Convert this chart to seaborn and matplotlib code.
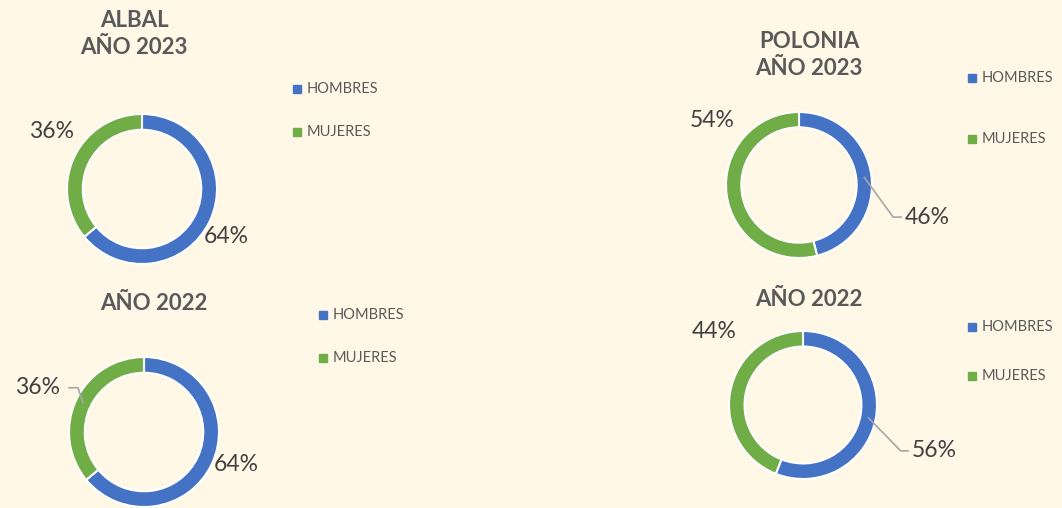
import numpy as np
import seaborn as sns
import matplotlib.pyplot as plt
from matplotlib.lines import Line2D

# datos
generos = ['HOMBRES', 'MUJERES']
albal_2023 = [64, 36]
albal_2022 = [64, 36]
polonia_2023 = [46, 54]
polonia_2022 = [56, 44]

sns.set_theme(style='white')
plt.rcParams['font.family'] = ['Lato', 'DejaVu Sans']

fondo = '#FFF8E6'
colores = ['#4472C4', '#70AD47']
gris_titulo = '#595959'
gris_etiqueta = '#404040'

W, H = 1062, 508
fig = plt.figure(figsize=(W / 100, H / 100), dpi=100, facecolor=fondo)


def fx(x):
    return x / W


def fy(y):
    return 1 - y / H


# layout in pixels / radius units
paneles = [
    dict(titulo='ALBAL\nAÑO 2023', valores=albal_2023, tpos=(134, 34),
         centro=(142, 189), r=75, leyenda=(297, 89), sep=43,
         etiquetas=[dict(pos=(1.12, -0.63), ha='center'),
                    dict(pos=(-1.20, 0.76), ha='center')]),
    dict(titulo='AÑO 2022', valores=albal_2022, tpos=(154, 303),
         centro=(144, 432), r=75, leyenda=(323, 315), sep=43,
         etiquetas=[dict(pos=(1.23, -0.43), ha='center'),
                    dict(pos=(-1.12, 0.59), ha='right', linea=(0.11, 0.24))]),
    dict(titulo='POLONIA\nAÑO 2023', valores=polonia_2023, tpos=(809, 55),
         centro=(799, 185), r=73, leyenda=(972, 78), sep=61,
         etiquetas=[dict(pos=(1.45, -0.44), ha='left', linea=(-0.04, -0.16)),
                    dict(pos=(-1.19, 0.88), ha='center')]),
    dict(titulo='AÑO 2022', valores=polonia_2022, tpos=(809, 300),
         centro=(803, 405), r=74, leyenda=(972, 327), sep=49,
         etiquetas=[dict(pos=(1.47, -0.62), ha='left', linea=(-0.04, -0.15)),
                    dict(pos=(-1.20, 0.99), ha='center')]),
]

grosor = 0.21

for p in paneles:
    cx, cy = p['centro']
    r = p['r']
    ax = fig.add_axes([fx(cx - r), fy(cy + r), 2 * r / W, 2 * r / H])
    ax.set_facecolor('none')
    wedges, _ = ax.pie(p['valores'], colors=colores, startangle=90, counterclock=False,
                       radius=1, wedgeprops=dict(width=grosor, edgecolor='white', linewidth=1.5))
    ax.set_xlim(-1, 1)
    ax.set_ylim(-1, 1)
    ax.set_aspect('equal')
    ax.axis('off')

    total = sum(p['valores'])
    for w, v, et in zip(wedges, p['valores'], p['etiquetas']):
        tx, ty = et['pos']
        ax.text(tx, ty, f'{round(100 * v / total)}%', ha=et['ha'], va='center',
                fontsize=16.5, color=gris_etiqueta, clip_on=False)
        if 'linea' in et:
            ang = np.deg2rad((w.theta1 + w.theta2) / 2)
            rm = 1 - grosor / 2
            x0, y0 = rm * np.cos(ang), rm * np.sin(ang)
            d_fin, d_codo = et['linea']
            ax.plot([x0, tx + d_codo, tx + d_fin], [y0, ty, ty], color='#A6A6A6',
                    lw=1.2, clip_on=False, solid_capstyle='butt')

    tx, ty = p['tpos']
    fig.text(fx(tx), fy(ty), p['titulo'], ha='center', va='center', fontsize=16,
             fontweight='bold', color=gris_titulo, linespacing=1.35)

    lx, ly = p['leyenda']
    for i, (g, c) in enumerate(zip(generos, colores)):
        yy = ly + i * p['sep']
        fig.add_artist(Line2D([fx(lx)], [fy(yy)], marker='s', ms=5.5, color=c,
                              transform=fig.transFigure))
        fig.text(fx(lx + 10), fy(yy), g, ha='left', va='center', fontsize=10.5,
                 color=gris_titulo)

fig.savefig('out.png', dpi=100, facecolor=fondo)
